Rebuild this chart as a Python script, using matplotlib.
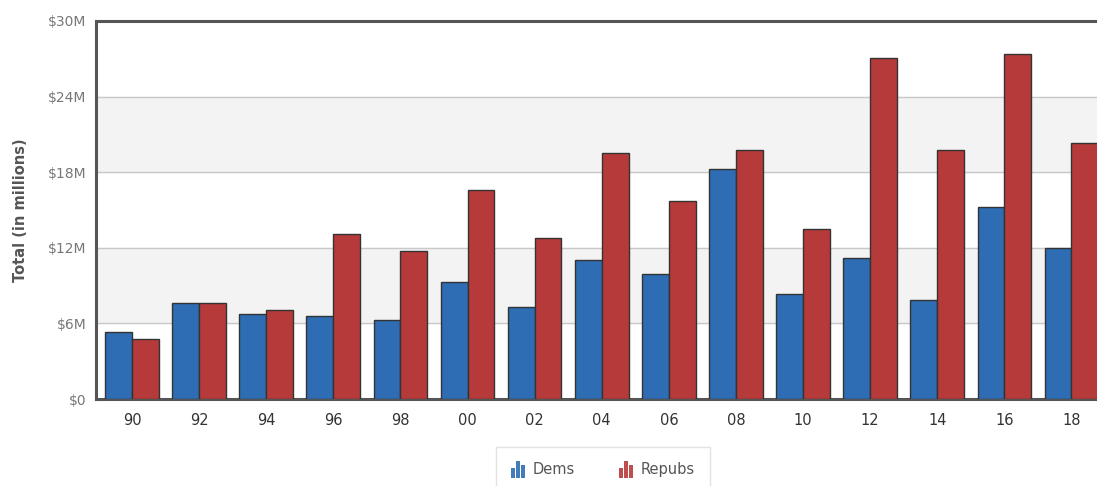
import numpy as np
import matplotlib.pyplot as plt
from matplotlib.legend_handler import HandlerBase
from matplotlib.patches import Rectangle

years = ['90', '92', '94', '96', '98', '00', '02', '04', '06', '08', '10', '12', '14', '16', '18']
dems = [5.35, 7.6, 6.77, 6.6, 6.3, 9.3, 7.3, 11.0, 9.9, 18.25, 8.3, 11.2, 7.85, 15.2, 12.0]
repubs = [4.8, 7.6, 7.05, 13.1, 11.75, 16.6, 12.75, 19.5, 15.75, 19.75, 13.5, 27.1, 19.75, 27.35, 20.3]
yticks = [0, 6, 12, 18, 24, 30]
ytick_labels = ['$0', '$6M', '$12M', '$18M', '$24M', '$30M']

blue = '#2e6db4'
red = '#b73a3a'


class BarIconHandler(HandlerBase):
    # little bar-chart icon like the original legend
    def create_artists(self, legend, orig_handle, xdescent, ydescent, width, height, fontsize, trans):
        color = orig_handle.get_facecolor()
        arts = []
        bw = width / 3.6
        for k, h in enumerate([0.6, 1.0, 0.75]):
            r = Rectangle((k * bw * 1.25 - xdescent, -ydescent - height * 0.15), bw, height * h * 1.3,
                          facecolor=color, edgecolor='none', transform=trans, alpha=0.9)
            arts.append(r)
        return arts


fig = plt.figure(figsize=(10.97, 4.86), dpi=100)
ax = fig.add_axes([96 / 1097, 1 - 399 / 486, (1107.5 - 96) / 1097, (399 - 21) / 486])

x = np.arange(len(years))
w = 0.4
b1 = ax.bar(x - w / 2, dems, w, color=blue, edgecolor='#333333', linewidth=1.0, zorder=3)
b2 = ax.bar(x + w / 2, repubs, w, color=red, edgecolor='#333333', linewidth=1.0, zorder=3)

ax.set_xlim(-0.537, len(years) - 1 + 0.537)
ax.set_ylim(0, 30)

# alternating bands
for lo in [6, 18]:
    ax.axhspan(lo, lo + 6, color='#f3f3f3', zorder=0)
for yv in [6, 12, 18, 24]:
    ax.axhline(yv, color='#c8c8c8', linewidth=1.0, zorder=1)

ax.set_xticks(x)
ax.set_xticklabels(years, fontsize=10.5, color='#333333')
ax.set_yticks(yticks)
ax.set_yticklabels(ytick_labels, fontsize=10, color='#777777')
ax.tick_params(axis='both', length=0)
ax.tick_params(axis='x', pad=10)
ax.tick_params(axis='y', pad=7)

for s in ['left', 'top', 'bottom']:
    ax.spines[s].set_color('#555555')
    ax.spines[s].set_linewidth(2.2)
ax.spines['right'].set_visible(False)

ax.set_ylabel('Total (in millions)', fontsize=10.5, fontweight='bold', color='#555555', labelpad=14)

leg = fig.legend([b1.patches[0], b2.patches[0]], ['Dems', 'Repubs'],
                 handler_map={Rectangle: BarIconHandler()},
                 loc='upper center', bbox_to_anchor=(603 / 1097, 1 - 447 / 486),
                 ncol=2, fontsize=10.5, frameon=True, fancybox=False, shadow=False,
                 handlelength=1.0, handleheight=1.0, handletextpad=0.5, columnspacing=3.0,
                 borderpad=1.05, borderaxespad=0, labelcolor='#555555')
leg.get_frame().set_edgecolor('#dddddd')
leg.get_frame().set_linewidth(1.0)

fig.savefig('out.png', dpi=100)
